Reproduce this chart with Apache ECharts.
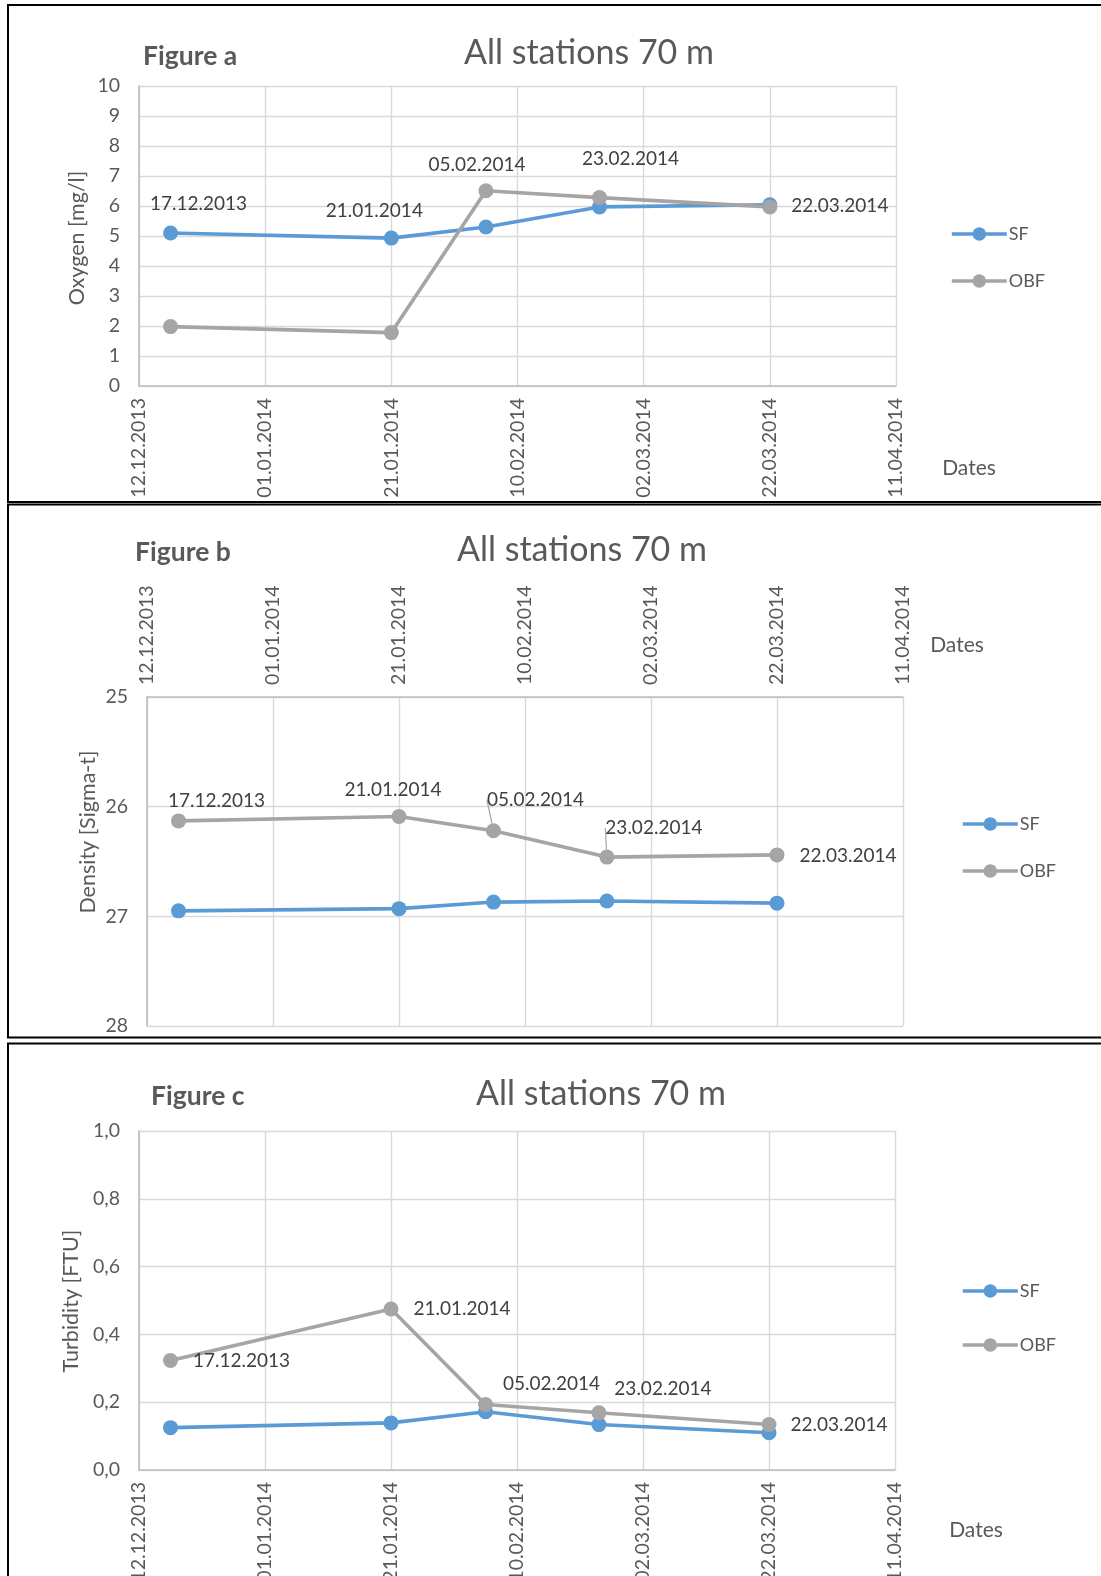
<!DOCTYPE html>
<html>
<head>
<meta charset="utf-8">
<title>All stations 70 m</title>
<script src="https://cdn.jsdelivr.net/npm/echarts@6/dist/echarts.min.js"></script>
<style>
  html, body { margin: 0; padding: 0; background: #ffffff; }
  #chart { width: 1101px; height: 1576px; }
</style>
</head>
<body>
<div id="chart"></div>
<script>
// ---- data ---------------------------------------------------------------
const sampleDates = ['17.12.2013', '21.01.2014', '05.02.2014', '23.02.2014', '22.03.2014'];
const dateTicks   = ['12.12.2013', '01.01.2014', '21.01.2014', '10.02.2014', '02.03.2014', '22.03.2014', '11.04.2014'];

const oxygenSF  = [5.10, 4.93, 5.30, 5.97, 6.04];
const oxygenOBF = [1.98, 1.78, 6.51, 6.28, 5.97];

const densitySF  = [26.95, 26.93, 26.87, 26.86, 26.88];
const densityOBF = [26.13, 26.09, 26.22, 26.46, 26.44];

const turbiditySF  = [0.125, 0.139, 0.172, 0.134, 0.110];
const turbidityOBF = [0.323, 0.475, 0.193, 0.169, 0.134];

const oxygenTicks    = [0, 10, 1];
const densityTicks   = [25, 28, 1];
const turbidityTicks = [0, 1, 0.2];

// ---- helpers ------------------------------------------------------------
const EPOCH = Date.UTC(1899, 11, 30);
const DAY = 86400000;
function toSerial(s) {
  const [d, m, y] = s.split('.').map(Number);
  return Math.round((Date.UTC(y, m - 1, d) - EPOCH) / DAY);
}
function fromSerial(v) {
  const dt = new Date(EPOCH + Math.round(v) * DAY);
  const p = n => String(n).padStart(2, '0');
  return p(dt.getUTCDate()) + '.' + p(dt.getUTCMonth() + 1) + '.' + dt.getUTCFullYear();
}

const FONT = 'Lato, "Open Sans", sans-serif';
const TXT = '#595959';
const LBL = '#404040';
const BLUE = '#5B9BD5';
const GREY = '#A5A5A5';
const GRIDC = '#D9D9D9';
const AXISC = '#BFBFBF';
const TICK_SIZE = 19.5;
const LABEL_SIZE = 19;

// label placement per panel / series / point (pixel offsets from the marker)
const labelOffsets = {
  a: { SF: { 0: [28, -29], 1: [-17, -27] }, OBF: { 2: [-9, -26], 3: [31, -39], 4: [70, -1] } },
  b: { SF: {}, OBF: { 0: [38, -20], 1: [-6, -27], 2: [42, -31], 3: [47, -29], 4: [71, 1] } },
  c: { SF: {}, OBF: { 0: [71, 0], 1: [71, 0], 2: [66, -21], 3: [64, -24], 4: [70, 0] } }
};
const leaderLines = { b: { OBF: [2, 3] } };

const grids = [
  { left: 139, top: 86,   width: 757, height: 300 },
  { left: 147, top: 697,  width: 756, height: 329 },
  { left: 139, top: 1131, width: 756, height: 339 }
];

const xMin = toSerial(dateTicks[0]);
const xMax = toSerial(dateTicks[dateTicks.length - 1]);
const xStep = toSerial(dateTicks[1]) - xMin;

function xAxisFor(gi, position) {
  return {
    type: 'value', gridIndex: gi, position: position,
    min: xMin, max: xMax, interval: xStep,
    axisLine: { show: true, onZero: false, lineStyle: { color: AXISC, width: 1.6 } },
    axisTick: { show: false },
    splitLine: { show: true, lineStyle: { color: GRIDC, width: 1.4 } },
    axisLabel: {
      rotate: position === 'top' ? -90 : 90, margin: 12, color: TXT,
      fontSize: TICK_SIZE, fontFamily: FONT,
      showMinLabel: true, showMaxLabel: true, hideOverlap: false,
      formatter: v => fromSerial(v)
    }
  };
}
function yAxisFor(gi, ticks, opts) {
  return Object.assign({
    type: 'value', gridIndex: gi,
    min: ticks[0], max: ticks[1], interval: ticks[2],
    axisLine: { show: true, onZero: false, lineStyle: { color: AXISC, width: 1.6 } },
    axisTick: { show: false },
    splitLine: { show: true, lineStyle: { color: GRIDC, width: 1.4 } },
    axisLabel: { margin: 19, color: TXT, fontSize: TICK_SIZE, fontFamily: FONT }
  }, opts || {});
}

function buildSeries(panel, gi, name, values, color) {
  const offs = labelOffsets[panel][name] || {};
  const leaders = (leaderLines[panel] && leaderLines[panel][name]) || [];
  const useLayout = leaders.length > 0;
  const data = sampleDates.map((d, i) => {
    const item = { value: [toSerial(d), values[i]] };
    if (offs[i]) {
      item.label = {
        show: true, position: 'inside',
        offset: useLayout ? [0, 0] : offs[i],
        formatter: p => fromSerial(p.value[0]),
        color: LBL, fontSize: LABEL_SIZE, fontFamily: FONT
      };
      if (leaders.indexOf(i) >= 0) {
        item.labelLine = { show: true, lineStyle: { color: GREY, width: 1.2 } };
      }
    }
    return item;
  });
  const s = {
    name: name, type: 'line', xAxisIndex: gi, yAxisIndex: gi,
    data: data, smooth: false, symbol: 'circle', symbolSize: 15,
    showAllSymbol: true,
    lineStyle: { color: color, width: 3.6 },
    itemStyle: { color: color },
    label: { show: false },
    emphasis: { disabled: true },
    animation: false
  };
  if (useLayout) {
    s.labelLine = { show: false };
    s.labelLayout = p => {
      const o = offs[p.dataIndex];
      return o ? { dx: o[0], dy: o[1] } : {};
    };
  }
  return s;
}

function legendAt(left, top, gap) {
  return {
    data: ['SF', 'OBF'], orient: 'vertical', left: left, top: top,
    itemGap: gap, itemWidth: 55, itemHeight: 17, selectedMode: false,
    lineStyle: { width: 3.6 },
    textStyle: { color: TXT, fontSize: 18, fontFamily: FONT, padding: [0, 0, 0, -3] }
  };
}

function txt(text, x, y, size, opts) {
  return {
    type: 'text', x: x, y: y, rotation: (opts && opts.rot) || 0,
    style: {
      text: text, fill: TXT, align: (opts && opts.align) || 'center', verticalAlign: 'middle',
      font: ((opts && opts.bold) ? 'bold ' : '') + size + 'px ' + FONT
    }
  };
}
function frame(y, h) {
  return { type: 'rect', shape: { x: 8, y: y, width: 1200, height: h },
           style: { fill: 'none', stroke: '#000000', lineWidth: 2 }, silent: true };
}

const option = {
  backgroundColor: '#ffffff',
  animation: false,
  grid: grids.map(g => Object.assign({ containLabel: false, outerBoundsMode: 'none' }, g)),
  xAxis: [xAxisFor(0, 'bottom'), xAxisFor(1, 'top'), xAxisFor(2, 'bottom')],
  yAxis: [
    yAxisFor(0, oxygenTicks),
    yAxisFor(1, densityTicks, { inverse: true }),
    yAxisFor(2, turbidityTicks, {
      axisLabel: { margin: 19, color: TXT, fontSize: TICK_SIZE, fontFamily: FONT,
                   formatter: v => v.toFixed(1).replace('.', ',') }
    })
  ],
  legend: [legendAt(945, 220, 29), legendAt(956, 810, 29), legendAt(956, 1277, 36)],
  series: [
    buildSeries('a', 0, 'SF', oxygenSF, BLUE),
    buildSeries('a', 0, 'OBF', oxygenOBF, GREY),
    buildSeries('b', 1, 'SF', densitySF, BLUE),
    buildSeries('b', 1, 'OBF', densityOBF, GREY),
    buildSeries('c', 2, 'SF', turbiditySF, BLUE),
    buildSeries('c', 2, 'OBF', turbidityOBF, GREY)
  ],
  graphic: [
    frame(5, 497), frame(504.5, 533), frame(1043.5, 600),
    txt('Figure a', 143, 56, 26.5, { bold: true, align: 'left' }),
    txt('Figure b', 135, 552, 26.5, { bold: true, align: 'left' }),
    txt('Figure c', 151, 1096, 26.5, { bold: true, align: 'left' }),
    txt('All stations 70 m', 589, 53, 34),
    txt('All stations 70 m', 582, 550, 34),
    txt('All stations 70 m', 601, 1094, 34),
    txt('Oxygen [mg/l]', 77, 238, 21.5, { rot: Math.PI / 2 }),
    txt('Density [Sigma-t]', 88, 832, 21.5, { rot: Math.PI / 2 }),
    txt('Turbidity [FTU]', 71, 1301, 21.5, { rot: Math.PI / 2 }),
    txt('Dates', 969, 468, 21),
    txt('Dates', 957, 645, 21),
    txt('Dates', 976, 1530, 21)
  ]
};

const chart = echarts.init(document.getElementById('chart'), null, { renderer: 'canvas' });
chart.setOption(option);
</script>
</body>
</html>
